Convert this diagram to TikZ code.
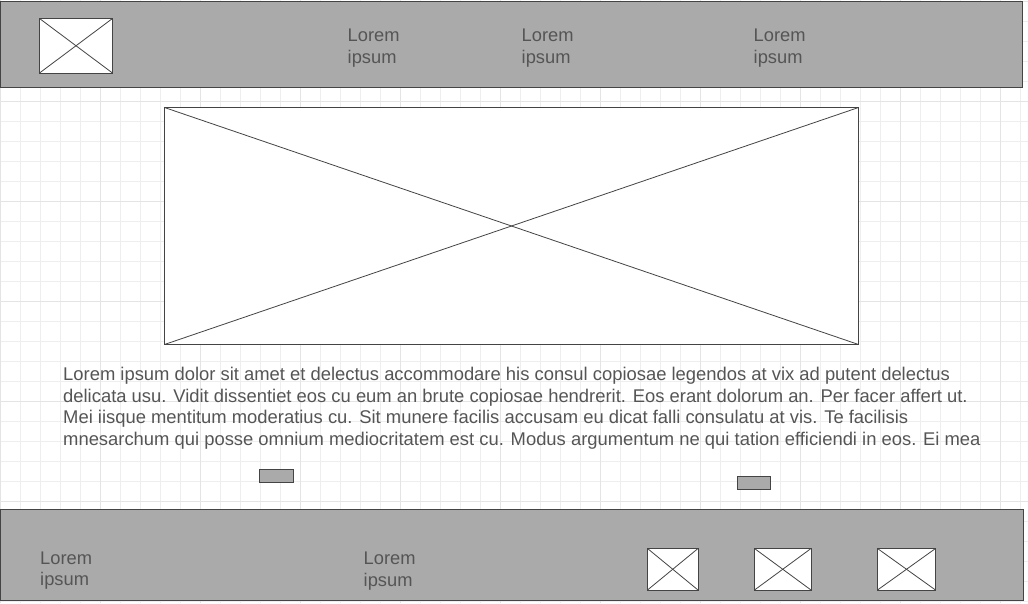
\documentclass[tikz,border=0pt]{standalone}
\usepackage{fontspec}
\setmainfont{Liberation Sans}
\definecolor{barfill}{RGB}{170,170,170}
\definecolor{edge}{RGB}{68,68,68}
\definecolor{txt}{RGB}{85,85,85}
\definecolor{gridminor}{RGB}{238,238,238}
\definecolor{gridmajor}{RGB}{228,228,228}

\begin{document}
\begin{tikzpicture}[x=1pt,y=-1pt,
	box/.style={draw=edge,line width=1pt,inner sep=0pt,outer sep=0pt,anchor=north west},
	bar/.style={box,fill=barfill},
	imgbox/.style={box,fill=white},
	btn/.style={box,fill=barfill},
	cross/.style={draw=edge,line width=0.8pt},
	navtext/.style={inner sep=0pt,anchor=north west,align=left,text=txt,font=\fontsize{18.3}{21.5}\selectfont},
	bodytext/.style={inner sep=0pt,anchor=north west,align=left,text=txt,font=\fontsize{18.4}{21.7}\selectfont}]
\useasboundingbox[fill=white] (0,0) rectangle (1028,603);
\foreach \gx in {0,20,...,1020} \draw[gridminor,line width=1pt] (\gx,0) -- (\gx,603);
\foreach \gy in {1,21,...,601} \draw[gridminor,line width=1pt] (0,\gy) -- (1028,\gy);
\foreach \gx in {0,100,...,1000} \draw[gridmajor,line width=1pt] (\gx,0) -- (\gx,603);
\foreach \gy in {1,101,...,501} \draw[gridmajor,line width=1pt] (0,\gy) -- (1028,\gy);

\node[bar,minimum width=1021.5pt,minimum height=86pt] (header) at (0.5,1) {};
\node[bar,minimum width=1022.5pt,minimum height=91pt] (footer) at (0.5,509) {};

\node[imgbox,minimum width=73pt,minimum height=54.5pt] (logo) at (39.5,18.5) {};
\node[navtext] (navone) at (347.5,29) {Lorem\\ipsum};
\node[navtext] (navtwo) at (521.5,29) {Lorem\\ipsum};
\node[navtext] (navthree) at (753.5,29) {Lorem\\ipsum};

\node[imgbox,minimum width=694pt,minimum height=237pt] (hero) at (164.5,107.5) {};
\node[bodytext] (para) at (63,367) {Lorem ipsum dolor sit amet et delectus accommodare his consul copiosae legendos at vix ad putent delectus\\
delicata usu. Vidit dissentiet eos cu eum an brute copiosae hendrerit. Eos erant dolorum an. Per facer affert ut.\\
Mei iisque mentitum moderatius cu. Sit munere facilis accusam eu dicat falli consulatu at vis. Te facilisis\\
mnesarchum qui posse omnium mediocritatem est cu. Modus argumentum ne qui tation efficiendi in eos. Ei mea};

\node[btn,minimum width=34pt,minimum height=13pt] (btnleft) at (259.5,469.5) {};
\node[btn,minimum width=33pt,minimum height=12.5pt] (btnright) at (737.5,476.5) {};

\node[navtext] (footone) at (40,551.5) {Lorem\\ipsum};
\node[navtext] (foottwo) at (363.5,552) {Lorem\\ipsum};
\node[imgbox,minimum width=50.5pt,minimum height=41.5pt] (icona) at (647.5,548.5) {};
\node[imgbox,minimum width=56.5pt,minimum height=41.5pt] (iconb) at (754.5,548.5) {};
\node[imgbox,minimum width=58pt,minimum height=41.5pt] (iconc) at (877.5,548.5) {};

\foreach \n in {logo,hero,icona,iconb,iconc} {
	\draw[cross] (\n.north west) -- (\n.south east);
	\draw[cross] (\n.south west) -- (\n.north east);
}
\end{tikzpicture}
\end{document}
